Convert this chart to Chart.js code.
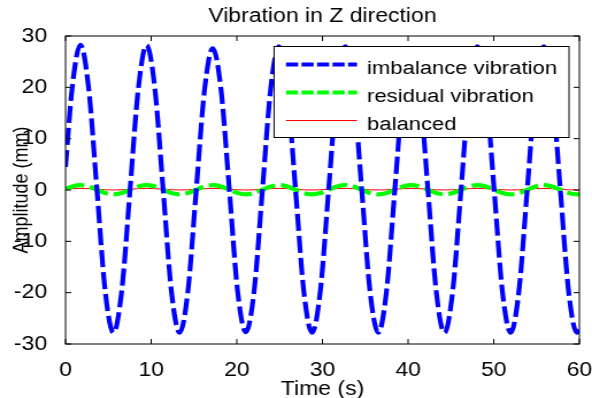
<!DOCTYPE html>
<html>
<head>
<meta charset="utf-8">
<script src="https://cdn.jsdelivr.net/npm/chart.js@4"></script>
<style>
  html, body { margin: 0; padding: 0; background: #fff; overflow: hidden; }
</style>
</head>
<body>
<canvas id="myChart" width="515" height="398" style="display:block;width:592px;height:398px"></canvas>
<script>
// values, one sample about every eighth of a period
const times = [0, 0.77, 1.73, 2.70, 3.67, 4.63, 5.60, 6.56, 7.53, 8.50, 9.46, 10.43, 11.40, 12.36, 13.33, 14.29,
  15.26, 16.23, 17.19, 18.16, 19.13, 20.09, 21.06, 22.02, 22.99, 23.96, 24.92, 25.89, 26.86, 27.82, 28.79, 29.75,
  30.72, 31.69, 32.65, 33.62, 34.59, 35.55, 36.52, 37.48, 38.45, 39.42, 40.38, 41.35, 42.32, 43.28, 44.25, 45.21,
  46.18, 47.15, 48.11, 49.08, 50.05, 51.01, 51.98, 52.94, 53.91, 54.88, 55.84, 56.81, 57.78, 58.74, 59.71, 60]

const imbalance = [4.5, 19.8, 28.3, 19.8, 0, -19.7, -27.8, -19.7,
  0, 19.8, 28.2, 19.8, 0, -19.7, -27.8, -19.7,
  0, 19.5, 27.6, 19.5, 0, -19.7, -27.7, -19.7,
  0, 19.8, 28, 19.8, 0, -19.7, -27.8, -19.7,
  0, 19.8, 28, 19.8, 0, -19.7, -27.8, -19.7,
  0, 19.8, 28, 19.8, 0, -19.7, -27.8, -19.7,
  0, 19.8, 28, 19.8, 0, -19.7, -27.8, -19.7,
  0, 19.8, 28, 19.8, 0, -19.7, -27.8, -27.2]

const residual = [0.2, 0.69, 0.95, 0.69, 0.05, -0.59, -0.85, -0.59,
  0.05, 0.69, 0.95, 0.69, 0.05, -0.59, -0.85, -0.59,
  0.05, 0.69, 0.95, 0.69, 0.05, -0.59, -0.85, -0.59,
  0.05, 0.69, 0.95, 0.69, 0.05, -0.59, -0.85, -0.59,
  0.05, 0.69, 0.95, 0.69, 0.05, -0.59, -0.85, -0.59,
  0.05, 0.69, 0.95, 0.69, 0.05, -0.59, -0.85, -0.59,
  0.05, 0.69, 0.95, 0.69, 0.05, -0.59, -0.85, -0.59,
  0.05, 0.69, 0.95, 0.69, 0.05, -0.59, -0.85, -0.82]

const balanced = [0.17, 0.26, 0.3, 0.26, 0.15, 0.04, 0, 0.04,
  0.15, 0.26, 0.3, 0.26, 0.15, 0.04, 0, 0.04,
  0.15, 0.26, 0.3, 0.26, 0.15, 0.04, 0, 0.04,
  0.15, 0.26, 0.3, 0.26, 0.15, 0.04, 0, 0.04,
  0.15, 0.26, 0.3, 0.26, 0.15, 0.04, 0, 0.04,
  0.15, 0.26, 0.3, 0.26, 0.15, 0.04, 0, 0.04,
  0.15, 0.26, 0.3, 0.26, 0.15, 0.04, 0, 0.04,
  0.15, 0.26, 0.3, 0.26, 0.15, 0.04, 0, 0.0]

const seriesNames = ['imbalance vibration', 'residual vibration', 'balanced']
const xTicks = [0, 10, 20, 30, 40, 50, 60]
const yTicks = [-30, -20, -10, 0, 10, 20, 30]

const toPoints = (values) => times.map((t, i) => ({ x: t, y: values[i] }))

Chart.defaults.font.family = '"Liberation Sans", Arial, sans-serif'
Chart.defaults.color = '#000'

// matlab style box, inward ticks on all four sides, and the boxed legend
const matlabBox = {
  id: 'matlabBox',
  afterDatasetsDraw(chart) {
    const { ctx, chartArea: a, scales: { x, y } } = chart
    ctx.save()
    ctx.strokeStyle = '#000'
    ctx.lineWidth = 1
    ctx.strokeRect(a.left, a.top, a.right - a.left, a.bottom - a.top)
    ctx.beginPath()
    x.ticks.forEach((t) => {
      const px = x.getPixelForValue(t.value)
      ctx.moveTo(px, a.bottom); ctx.lineTo(px, a.bottom - 5)
      ctx.moveTo(px, a.top); ctx.lineTo(px, a.top + 5)
    })
    y.ticks.forEach((t) => {
      const py = y.getPixelForValue(t.value)
      ctx.moveTo(a.left, py); ctx.lineTo(a.left + 5, py)
      ctx.moveTo(a.right, py); ctx.lineTo(a.right - 5, py)
    })
    ctx.stroke()

    // legend
    const box = { left: 238.4, top: 46.5, right: 495, bottom: 137.5 }
    ctx.fillStyle = '#fff'
    ctx.fillRect(box.left, box.top, box.right - box.left, box.bottom - box.top)
    ctx.strokeRect(box.left, box.top, box.right - box.left, box.bottom - box.top)
    ctx.font = '19.2px "Liberation Sans", Arial, sans-serif'
    ctx.textBaseline = 'alphabetic'
    chart.data.datasets.forEach((ds, i) => {
      const ly = Math.round(64 + i * 27.75) + 0.5
      ctx.beginPath()
      ctx.strokeStyle = ds.borderColor
      ctx.lineWidth = ds.borderWidth
      ctx.setLineDash(ds.borderDash && ds.borderDash.length ? [10.5, 3] : [])
      ctx.moveTo(248.8, ly)
      ctx.lineTo(310.6, ly)
      ctx.stroke()
      ctx.setLineDash([])
      ctx.fillStyle = '#000'
      ctx.fillText(ds.label, 319.3, ly + 9)
    })
    ctx.restore()
  }
}

const config = {
  type: 'line',
  data: {
    datasets: [{
      label: seriesNames[0],
      data: toPoints(imbalance),
      borderColor: 'rgb(0, 0, 255)',
      borderWidth: 4.2,
      borderDash: [17, 5],
      pointRadius: 0,
      cubicInterpolationMode: 'monotone'
    }, {
      label: seriesNames[1],
      data: toPoints(residual),
      borderColor: 'rgb(0, 255, 0)',
      borderWidth: 4.2,
      borderDash: [17, 5],
      pointRadius: 0,
      cubicInterpolationMode: 'monotone'
    }, {
      label: seriesNames[2],
      data: toPoints(balanced),
      borderColor: 'rgb(255, 0, 0)',
      borderWidth: 1,
      borderDash: [],
      pointRadius: 0,
      cubicInterpolationMode: 'monotone'
    }]
  },
  options: {
    responsive: false,
    animation: false,
    events: [],
    layout: { padding: { top: 0, right: 11, bottom: 0, left: 0 } },
    plugins: {
      legend: { display: false },
      tooltip: { enabled: false },
      title: {
        display: true,
        fullSize: false,
        text: 'Vibration in Z direction',
        font: { size: 20, weight: 'normal', lineHeight: 1.2 },
        color: '#000',
        padding: { top: 4, bottom: 8 }
      }
    },
    scales: {
      x: {
        type: 'linear',
        min: 0,
        max: 60,
        afterBuildTicks: (s) => { s.ticks = xTicks.map((v) => ({ value: v })) },
        afterFit: (s) => { s.height = 54; s.paddingLeft = 0; s.paddingRight = 0 },
        grid: { display: false },
        border: { display: false },
        ticks: { font: { size: 20 }, padding: 6, maxRotation: 0 },
        title: { display: true, text: 'Time (s)', font: { size: 20, lineHeight: 0.9 }, padding: 0 }
      },
      y: {
        min: -30,
        max: 30,
        afterBuildTicks: (s) => { s.ticks = yTicks.map((v) => ({ value: v })) },
        afterFit: (s) => { s.width = 57; s.paddingTop = 0; s.paddingBottom = 0 },
        grid: { display: false },
        border: { display: false },
        ticks: { font: { size: 20 }, padding: 8 },
        title: { display: true, text: 'Amplitude (mm)', font: { size: 18, lineHeight: 1.2 }, padding: { top: 8.5, bottom: 0 } }
      }
    }
  },
  plugins: [matlabBox]
}

const myChart = new Chart(document.getElementById('myChart'), config)
</script>
</body>
</html>
